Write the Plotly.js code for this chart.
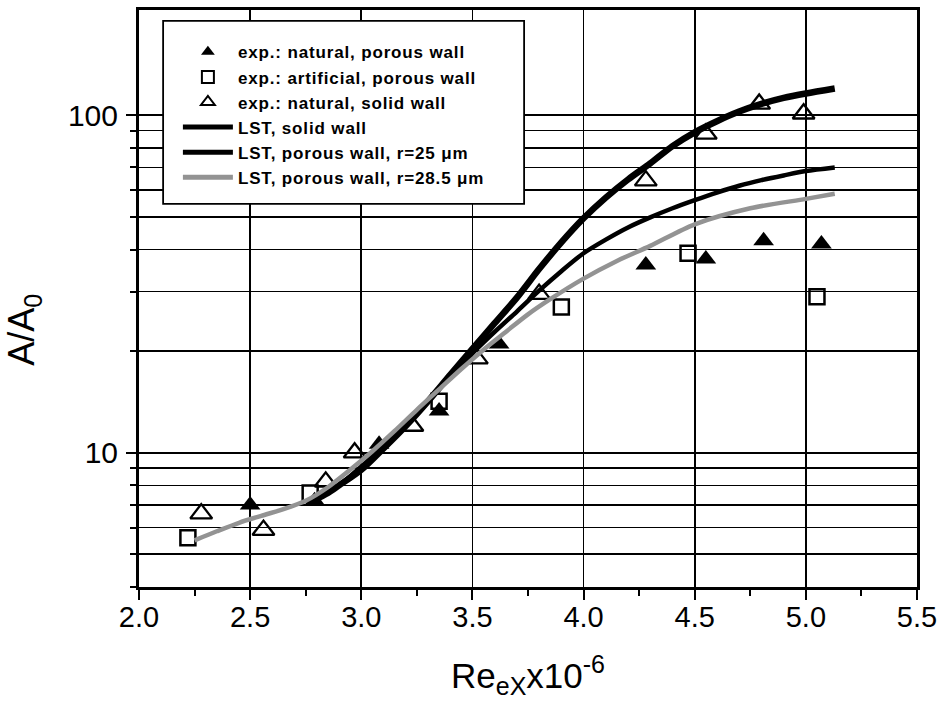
<!DOCTYPE html>
<html>
<head>
<meta charset="utf-8">
<script src="https://cdn.plot.ly/plotly-3.0.1.min.js"></script>
<style>
html,body{margin:0;padding:0;background:#fff;}
#chart{width:941px;height:713px;}
.legendtext{letter-spacing:0.85px;}
</style>
</head>
<body>
<div id="chart"></div>
<script>
// Experimental data
const natPorousX = [2.50, 2.79, 3.08, 3.35, 3.62, 4.28, 4.55, 4.81, 5.07];
const natPorousY = [7.0, 7.2, 10.6, 13.3, 21.0, 36.0, 37.5, 42.5, 41.5];

const artPorousX = [2.22, 2.77, 3.35, 3.90, 4.47, 5.05];
const artPorousY = [5.6, 7.6, 14.2, 27.0, 39.0, 29.0];

const natSolidX = [2.28, 2.56, 2.84, 2.97, 3.23, 3.52, 3.80, 4.28, 4.55, 4.79, 4.99];
const natSolidY = [6.6, 5.9, 8.2, 10.0, 12.0, 19.0, 29.5, 64.0, 88.0, 108.0, 101.0];

// LST curves
const lstSolidX = [2.78, 2.85, 2.90, 3.00, 3.10, 3.20, 3.30, 3.40, 3.50, 3.60, 3.70, 3.80, 3.90, 4.00, 4.10, 4.20, 4.30, 4.40, 4.50, 4.60, 4.70, 4.80, 4.90, 5.00, 5.13];
const lstSolidY = [7.2, 7.6, 8.0, 8.9, 10.3, 12.0, 14.2, 17.0, 20.3, 24.2, 28.8, 35.0, 42.0, 49.5, 57.0, 64.5, 72.0, 81.0, 89.0, 96.0, 102.5, 108.0, 112.5, 116.0, 120.0];

const lstP25X = [2.78, 2.85, 2.90, 3.00, 3.10, 3.20, 3.30, 3.40, 3.50, 3.60, 3.70, 3.80, 3.90, 4.00, 4.10, 4.20, 4.30, 4.40, 4.50, 4.60, 4.70, 4.80, 4.90, 5.00, 5.13];
const lstP25Y = [7.2, 7.6, 8.0, 9.1, 10.5, 12.2, 14.3, 16.8, 19.7, 22.8, 26.2, 30.2, 34.5, 39.0, 42.8, 46.5, 49.8, 53.0, 56.0, 59.0, 61.8, 64.2, 66.3, 68.3, 70.0];

const lstP285X = [2.25, 2.35, 2.45, 2.55, 2.65, 2.75, 2.85, 2.95, 3.05, 3.15, 3.25, 3.35, 3.45, 3.55, 3.65, 3.75, 3.85, 4.00, 4.15, 4.30, 4.50, 4.75, 5.00, 5.13];
const lstP285Y = [5.5, 5.85, 6.2, 6.5, 6.8, 7.2, 7.9, 8.9, 10.1, 11.6, 13.4, 15.4, 17.7, 20.2, 22.8, 25.7, 28.5, 32.8, 37.0, 41.0, 47.5, 53.0, 56.5, 58.5];

// Axis ticks
const xTickVals = [2.0, 2.5, 3.0, 3.5, 4.0, 4.5, 5.0, 5.5];
const yTickVals = [10, 100];
const yTickText = ["10", "100"];
const yMinorVals = [4, 5, 6, 7, 8, 9, 20, 30, 40, 50, 60, 70, 80, 90];

const legendNames = [
  "exp.: natural, porous wall",
  "exp.: artificial, porous wall",
  "exp.: natural, solid wall",
  "LST, solid wall",
  "LST, porous wall, r=25 \u03bcm",
  "LST, porous wall, r=28.5 \u03bcm"
];

const xTitle = '<span style="font-size:35px">Re</span><sub><span style="font-size:25px">eX</span></sub><span style="font-size:35px">x10</span><sup><span style="font-size:25px">-6</span></sup>';
const yTitle = '<span style="font-size:36px">A/A</span><sub><span style="font-size:25px">0</span></sub>';

const traces = [
  {x: natPorousX, y: natPorousY, name: legendNames[0], mode: "markers", type: "scatter",
   marker: {symbol: "triangle-up", size: 18, color: "#000", line: {width: 0}}},
  {x: artPorousX, y: artPorousY, name: legendNames[1], mode: "markers", type: "scatter",
   marker: {symbol: "square-open", size: 15, color: "#000", line: {width: 2.5, color: "#000"}}},
  {x: natSolidX, y: natSolidY, name: legendNames[2], mode: "markers", type: "scatter",
   marker: {symbol: "triangle-up-open", size: 19, color: "#000", line: {width: 2.3, color: "#000"}}},
  {x: lstSolidX, y: lstSolidY, name: legendNames[3], mode: "lines", type: "scatter",
   line: {color: "#000", width: 6.5, shape: "spline", smoothing: 0.8}},
  {x: lstP25X, y: lstP25Y, name: legendNames[4], mode: "lines", type: "scatter",
   line: {color: "#000", width: 4.5, shape: "spline", smoothing: 0.8}},
  {x: lstP285X, y: lstP285Y, name: legendNames[5], mode: "lines", type: "scatter",
   line: {color: "#939393", width: 4.5, shape: "spline", smoothing: 0.8}}
];

const font = "Liberation Sans, Arial, Helvetica, sans-serif";

const layout = {
  width: 941, height: 713,
  margin: {l: 139, r: 24, t: 10, b: 126, pad: 0},
  paper_bgcolor: "#fff", plot_bgcolor: "#fff",
  font: {family: font, color: "#000"},
  showlegend: true,
  legend: {
    x: 0.05, y: 0.958, xanchor: "left", yanchor: "top",
    bgcolor: "rgba(0,0,0,0)", borderwidth: 0,
    font: {family: font, size: 17, color: "#000", weight: "bold"},
    itemsizing: "constant", itemwidth: 50
  },
  shapes: [{
    type: "rect", xref: "paper", yref: "paper",
    x0: 0.031, x1: 0.495, y0: 0.664, y1: 0.981,
    fillcolor: "#fff", line: {color: "#000", width: 1.8}, layer: "above"
  }],
  annotations: [{
    text: yTitle, xref: "paper", yref: "paper",
    x: -0.147, y: 0.445, xanchor: "center", yanchor: "middle",
    textangle: -90, showarrow: false,
    font: {family: font, size: 36, color: "#000"}
  }],
  xaxis: {
    range: [2.0, 5.5], tickmode: "array", tickvals: xTickVals,
    tickformat: ".1f",
    ticks: "outside", ticklen: 10, tickwidth: 2, tickcolor: "#000",
    showline: true, linewidth: 3, linecolor: "#000", mirror: true,
    showgrid: true, gridcolor: "#000", gridwidth: 1.6, zeroline: false,
    tickfont: {family: font, size: 29, color: "#000"},
    ticklabelstandoff: -8,
    minor: {dtick: 0.25, tick0: 2.0, ticks: "outside", ticklen: 6, tickwidth: 2, tickcolor: "#000", showgrid: false},
    title: {text: xTitle, font: {family: font, size: 35, color: "#000"}, standoff: 32}
  },
  yaxis: {
    type: "log", range: [Math.log10(4), Math.log10(205)],
    tickmode: "array", tickvals: yTickVals, ticktext: yTickText,
    ticks: "outside", ticklen: 10, tickwidth: 2, tickcolor: "#000",
    showline: true, linewidth: 3, linecolor: "#000", mirror: true,
    showgrid: true, gridcolor: "#000", gridwidth: 1.6, zeroline: false,
    tickfont: {family: font, size: 30, color: "#000"},
    ticklabelstandoff: 2,
    minor: {tickmode: "array", tickvals: yMinorVals, ticks: "outside", ticklen: 6, tickwidth: 2, tickcolor: "#000",
            showgrid: true, gridcolor: "#000", gridwidth: 1.6}
  }
};

Plotly.newPlot("chart", traces, layout, {displayModeBar: false, staticPlot: true});
</script>
</body>
</html>
